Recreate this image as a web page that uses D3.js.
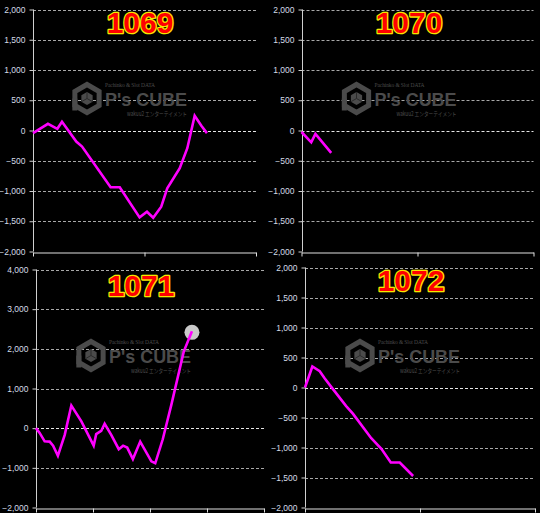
<!DOCTYPE html>
<html>
<head>
<meta charset="utf-8">
<script src="https://cdn.jsdelivr.net/npm/d3@7"></script>
<style>
  html, body { margin: 0; padding: 0; background: #000; }
  svg { display: block; }
</style>
</head>
<body>
<svg id="chart" width="540" height="513"></svg>
<script>
// ---------- data ----------
const titles = ["1069", "1070", "1071", "1072"];

const x1069 = [0, 6.7, 10.9, 13, 19.4, 22, 34.8, 38.9, 47.8, 51.1, 53.9, 57.5, 60.2, 65.8, 69.2, 72.5, 75.5, 78];
const y1069 = [-44, 110, 28, 144, -182, -265, -939, -939, -1436, -1343, -1442, -1260, -956, -624, -293, 243, 77, -44];

const x1070 = [0, 4.2, 6.0, 12.8];
const y1070 = [-25, -195, -55, -370];

const x1071 = [0, 1.6, 3.8, 6.0, 7.5, 9.6, 12.6, 15.5, 19.9, 25.3, 26.4, 28.6, 30.1, 33.0, 36.3, 38.2, 40.0, 42.5, 45.7, 50.6, 52.3, 55.6, 59.3, 64.8, 68.4];
const y1071 = [0, -119, -331, -339, -441, -695, -170, 570, 170, -441, -150, -70, 110, -170, -530, -441, -490, -778, -339, -837, -885, -280, 575, 1930, 2441];

const x1072 = [0, 3.2, 6.4, 8.6, 11.4, 17.9, 20.9, 28.8, 33.2, 37.3, 41.2, 47.0];
const y1072 = [0, 350, 272, 150, 11, -311, -440, -845, -1022, -1250, -1250, -1475];

const yTicksA = [-2000, -1500, -1000, -500, 0, 500, 1000, 1500, 2000];
const yTicksB = [-2000, -1000, 0, 1000, 2000, 3000, 4000];
const xTicksA = [0, 50, 100];
const xTicksB = [0, 25, 50, 75, 100];

// ---------- layout ----------
const panels = [
  { title: titles[0], xs: x1069, ys: y1069, yTicks: yTicksA, xTicks: xTicksA,
    left: 33, right: 256, top: 9.5, bottom: 251.5, titleX: 140, titleY: 33, wmX: 72, wmY: 82, marker: false },
  { title: titles[1], xs: x1070, ys: y1070, yTicks: yTicksA, xTicks: xTicksA,
    left: 301.5, right: 533.5, top: 9.5, bottom: 251.5, titleX: 409, titleY: 33, wmX: 341.5, wmY: 82, marker: false },
  { title: titles[2], xs: x1071, ys: y1071, yTicks: yTicksB, xTicks: xTicksB,
    left: 36, right: 264, top: 269.5, bottom: 507.5, titleX: 141, titleY: 296, wmX: 76, wmY: 339, marker: true },
  { title: titles[3], xs: x1072, ys: y1072, yTicks: yTicksA, xTicks: xTicksA,
    left: 305, right: 535, top: 267.5, bottom: 507.5, titleX: 411, titleY: 291, wmX: 345, wmY: 339, marker: false }
];

const svg = d3.select("#chart");
svg.append("rect").attr("width", 540).attr("height", 513).attr("fill", "#000");

const fmt = d3.format(",");

function drawWatermark(g, hx, hy) {
  const col = "#4b4b4b";
  const cx = hx + 15, cy = hy + 16.5, R = 14;
  const hex = d3.range(6).map(i => {
    const a = Math.PI / 180 * (60 * i - 90);
    return [cx + R * Math.cos(a), cy + R * Math.sin(a)];
  });
  g.append("path")
    .attr("d", d3.line()(hex) + "Z")
    .attr("fill", "none").attr("stroke", col).attr("stroke-width", 5)
    .attr("stroke-linejoin", "miter");
  g.append("rect").attr("x", cx - R * 0.87 - 2.5).attr("y", cy).attr("width", 5).attr("height", 12).attr("fill", col);
  const r = 6.5;
  const inner = d3.range(6).map(i => {
    const a = Math.PI / 180 * (60 * i - 90);
    return [cx + r * Math.cos(a), cy + r * Math.sin(a)];
  });
  g.append("path").attr("d", d3.line()(inner) + "Z").attr("fill", col);
  g.append("path")
    .attr("d", `M${cx},${cy}L${inner[0][0]},${inner[0][1]}M${cx},${cy}L${inner[2][0]},${inner[2][1]}M${cx},${cy}L${inner[4][0]},${inner[4][1]}`)
    .attr("stroke", "#2a2a2a").attr("stroke-width", 1);
  g.append("text").attr("x", hx + 33).attr("y", hy + 5)
    .attr("font-family", "Liberation Serif").attr("font-size", 5.5).attr("fill", col)
    .attr("textLength", 50).text("Pachinko & Slot DATA");
  g.append("text").attr("x", hx + 33).attr("y", hy + 23.5)
    .attr("font-family", "Liberation Sans").attr("font-weight", "bold").attr("font-size", 18)
    .attr("fill", col).attr("textLength", 82).attr("lengthAdjust", "spacingAndGlyphs").text("P's CUBE");
  g.append("text").attr("x", hx + 55).attr("y", hy + 34)
    .attr("font-family", "Noto Sans CJK JP").attr("font-size", 6).attr("fill", col)
    .attr("textLength", 60).attr("lengthAdjust", "spacingAndGlyphs").text("wakuu2 エンターテイメント");
}

panels.forEach(p => {
  const g = svg.append("g");
  const yDom = d3.extent(p.yTicks);
  const y = d3.scaleLinear().domain(yDom).range([p.bottom, p.top]);
  const x = d3.scaleLinear().domain([0, 100]).range([p.left, p.right]);

  g.selectAll("line.grid").data(p.yTicks.filter(t => t !== yDom[0])).join("line")
    .attr("x1", p.left).attr("x2", p.right)
    .attr("y1", d => Math.round(y(d)) + 0.5).attr("y2", d => Math.round(y(d)) + 0.5)
    .attr("stroke", d => d === 0 ? "#e6e6e6" : "#a8a8a8")
    .attr("stroke-width", 1)
    .attr("stroke-dasharray", "3,2");

  const yAxis = d3.axisLeft(y).tickValues(p.yTicks).tickFormat(fmt).tickSize(4).tickPadding(4);
  const ya = g.append("g").attr("transform", `translate(${Math.round(p.left) + 0.5},0)`).call(yAxis);
  ya.select(".domain").attr("stroke", "#cfcfcf").attr("d", `M0,${p.top}V${p.bottom}`);
  ya.selectAll(".tick line").attr("stroke", "#cfcfcf");
  ya.selectAll(".tick text").attr("fill", "#d4dbe6")
    .attr("font-family", "Liberation Sans").attr("font-size", 8.5);

  const xAxis = d3.axisBottom(x).tickValues(p.xTicks).tickFormat("").tickSize(4).tickSizeOuter(0);
  const xa = g.append("g").attr("transform", `translate(0,${Math.round(p.bottom) + 0.5})`).call(xAxis);
  xa.select(".domain").attr("stroke", "#e0e0e0");
  xa.selectAll(".tick line").attr("stroke", "#e0e0e0");

  drawWatermark(g.append("g"), p.wmX, p.wmY);

  g.append("text").attr("x", p.titleX).attr("y", p.titleY)
    .attr("text-anchor", "middle")
    .attr("font-family", "Liberation Sans").attr("font-weight", "bold").attr("font-size", 30)
    .attr("fill", "#ff0000").attr("stroke", "#f5e800").attr("stroke-width", 2.6)
    .attr("stroke-linejoin", "round")
    .attr("paint-order", "stroke")
    .text(p.title);

  const pts = p.xs.map((v, i) => [v, p.ys[i]]);

  if (p.marker) {
    const last = pts[pts.length - 1];
    g.append("circle").attr("cx", x(last[0])).attr("cy", y(last[1]) + 1)
      .attr("r", 7.5).attr("fill", "#c9c9c9");
  }

  g.append("path").datum(pts)
    .attr("d", d3.line().x(d => x(d[0])).y(d => y(d[1])))
    .attr("fill", "none").attr("stroke", "#ff00ff").attr("stroke-width", 2.6)
    .attr("stroke-linejoin", "miter");
});
</script>
</body>
</html>
